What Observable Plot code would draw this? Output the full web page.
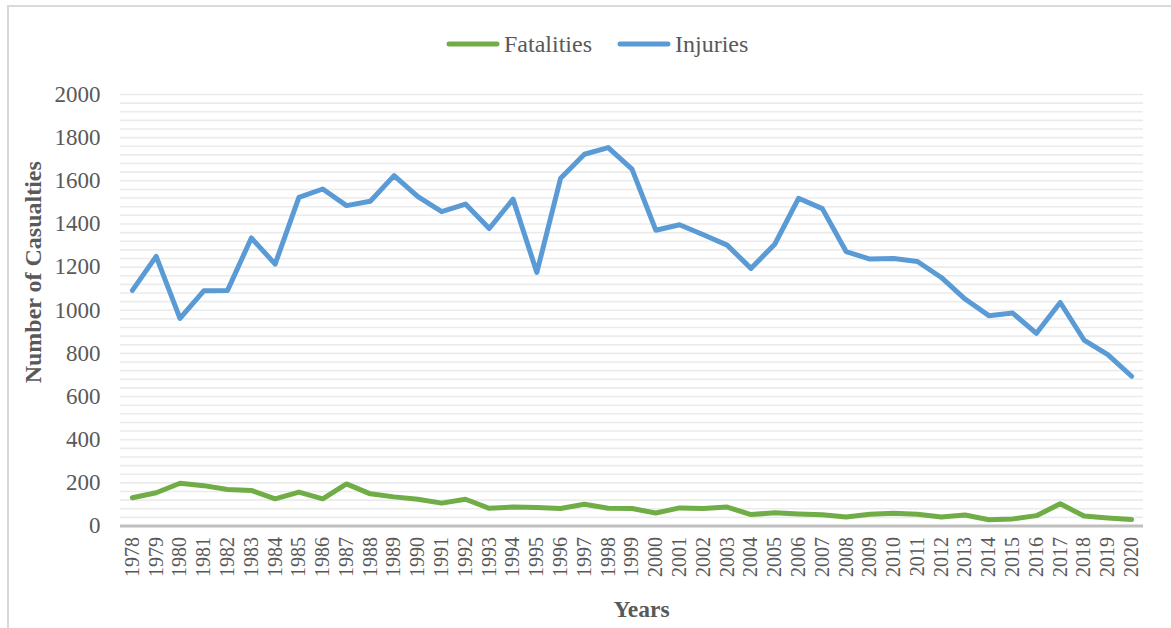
<!DOCTYPE html>
<html>
<head>
<meta charset="utf-8">
<script src="https://cdn.jsdelivr.net/npm/d3@7"></script>
<script src="https://cdn.jsdelivr.net/npm/@observablehq/plot@0.6"></script>
<style>
  html, body { margin: 0; padding: 0; background: #fff; overflow: hidden; }
  #wrap { position: relative; width: 1171px; height: 628px;
          font-family: "Liberation Serif", "Times New Roman", Times, serif; }
  #frame { position: absolute; left: 7px; top: 5px; right: -20px; bottom: -20px;
           border-top: 2px solid #d9d9d9; border-left: 2px solid #d9d9d9; pointer-events: none; }
  #legend { position: relative; height: 70px; }
  .item { position: absolute; top: 30px; display: flex; align-items: center; height: 28px;
          font-size: 24px; color: #595959; }
  .item svg { margin-right: 3px; }
  #chart { position: absolute; left: 0; top: 70px; }
</style>
</head>
<body>
<div id="wrap">
  <div id="frame"></div>
  <div id="legend"></div>
  <div id="chart"></div>
</div>
<script>
// Annual casualties, 1978–2020
const years = [1978, 1979, 1980, 1981, 1982, 1983, 1984, 1985, 1986, 1987, 1988, 1989, 1990,
  1991, 1992, 1993, 1994, 1995, 1996, 1997, 1998, 1999, 2000, 2001, 2002, 2003, 2004, 2005,
  2006, 2007, 2008, 2009, 2010, 2011, 2012, 2013, 2014, 2015, 2016, 2017, 2018, 2019, 2020];

const fatalities = [131, 154, 198, 187, 169, 165, 126, 157, 126, 195, 149, 135, 124,
  106, 124, 82, 88, 86, 81, 101, 82, 81, 60, 84, 81, 88, 53, 61,
  56, 52, 42, 54, 59, 54, 42, 51, 29, 33, 48, 103, 46, 37, 30];

const injuries = [1092, 1250, 962, 1090, 1092, 1335, 1214, 1523, 1562, 1485, 1505, 1624, 1527,
  1457, 1492, 1379, 1515, 1175, 1612, 1723, 1754, 1654, 1371, 1396, 1350, 1302, 1194, 1306,
  1519, 1471, 1272, 1237, 1240, 1226, 1152, 1052, 975, 987, 893, 1036, 862, 794, 694];

const seriesNames = ["Fatalities", "Injuries"];
const seriesColors = ["#70ad47", "#5b9bd5"];

const yTicks = [0, 200, 400, 600, 800, 1000, 1200, 1400, 1600, 1800, 2000];
const gridStep = 40;

// long-format table for the line mark
const rows = [
  ...years.map((year, i) => ({year, value: fatalities[i], series: "Fatalities"})),
  ...years.map((year, i) => ({year, value: injuries[i], series: "Injuries"}))
];

// legend above the chart
const legend = document.getElementById("legend");
const legendLeft = [445, 616];
seriesNames.forEach((name, i) => {
  const item = document.createElement("div");
  item.className = "item";
  item.style.left = legendLeft[i] + "px";
  item.innerHTML = `<svg width="56" height="8"><line x1="4" y1="4" x2="52" y2="4" stroke="${seriesColors[i]}" stroke-width="5" stroke-linecap="round"/></svg><span>${name}</span>`;
  legend.appendChild(item);
});

const font = "'Liberation Serif', 'Times New Roman', Times, serif";

const chart = Plot.plot({
  width: 1171,
  height: 558,
  marginLeft: 120,
  marginRight: 28,
  marginTop: 24,
  marginBottom: 102.5,
  style: {fontFamily: font, color: "#595959", background: "transparent", overflow: "visible"},
  x: {type: "point", domain: years, padding: 0.5},
  y: {domain: [0, 2000]},
  color: {domain: seriesNames, range: seriesColors},
  marks: [
    Plot.gridY(d3.range(gridStep, 2000 + gridStep, gridStep), {stroke: "#ebebeb", strokeOpacity: 1, strokeWidth: 1.6}),
    Plot.ruleY([0], {stroke: "#bfbfbf", strokeWidth: 3}),
    Plot.axisY(yTicks, {tickSize: 0, tickPadding: 20, fontSize: 23, fill: "#595959", label: null,
      tickFormat: d => String(d), fontFamily: font}),
    Plot.axisX({tickSize: 0, tickPadding: 11, tickRotate: -90, fontSize: 20, fill: "#595959", label: null,
      tickFormat: d => String(d), fontFamily: font}),
    Plot.line(rows, {x: "year", y: "value", z: "series", stroke: "series", strokeWidth: 5,
      strokeLinejoin: "round", strokeLinecap: "round"}),
    Plot.text(["Number of Casualties"], {frameAnchor: "left", textAnchor: "middle", lineAnchor: "middle",
      rotate: -90, dx: -87, dy: -38, fontWeight: "bold", fontSize: 24, fill: "#595959", fontFamily: font}),
    Plot.text(["Years"], {frameAnchor: "bottom", textAnchor: "middle", lineAnchor: "middle",
      dx: 9.5, dy: 83.5, fontWeight: "bold", fontSize: 23.5, fill: "#595959", fontFamily: font})
  ]
});

document.getElementById("chart").appendChild(chart);
</script>
</body>
</html>
